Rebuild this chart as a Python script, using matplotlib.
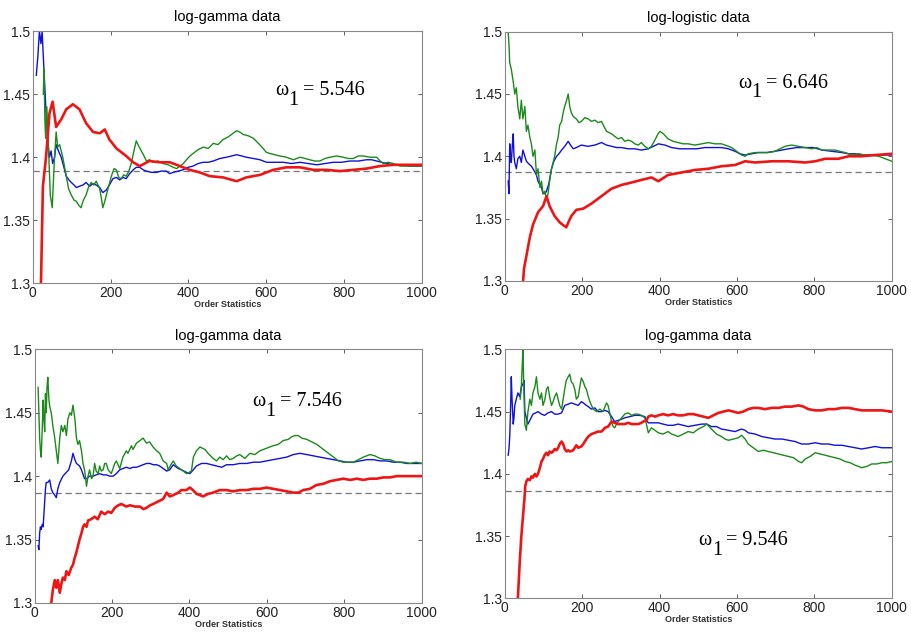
import matplotlib
matplotlib.use("Agg")
import matplotlib.pyplot as plt

plt.rcParams['font.family'] = ['Liberation Sans', 'DejaVu Sans']

# --- Data (x = order statistic, y = estimate) ---

# panel 1: log-gamma, omega_1 = 5.546
p1_red_x = [18, 21, 26, 34, 43, 51, 60, 73, 86, 103, 120, 137, 155, 172, 185, 197, 215, 240, 258, 275,
            300, 326, 352, 378, 403, 429, 455, 489, 524, 549, 584, 618, 652, 687, 721, 755, 790, 824,
            858, 893, 927, 1000]
p1_red_y = [1.28, 1.30, 1.377, 1.40, 1.435, 1.444, 1.424, 1.43, 1.438, 1.442, 1.438, 1.427, 1.42, 1.419,
            1.422, 1.414, 1.407, 1.401, 1.396, 1.393, 1.397, 1.396, 1.396, 1.393, 1.390, 1.388, 1.385,
            1.384, 1.381, 1.384, 1.386, 1.390, 1.392, 1.392, 1.390, 1.390, 1.389, 1.390, 1.391, 1.393,
            1.394, 1.394]
p1_green_x = [27, 29, 31, 33, 36, 40, 45, 50, 55, 60, 64, 69, 77, 86, 92, 99, 106, 112, 118, 124, 130,
              137, 143, 150, 157, 163, 172, 176, 180, 185, 189, 196, 202, 209, 215, 221, 227, 234, 240,
              247, 253, 260, 266, 272, 279, 286, 292, 300, 309, 322, 335, 348, 361, 370, 378, 387, 395,
              404, 412, 425, 438, 451, 464, 476, 489, 502, 515, 524, 532, 541, 554, 567, 580, 592, 600,
              609, 622, 635, 652, 670, 687, 700, 712, 725, 738, 751, 764, 781, 798, 811, 824, 837, 850,
              867, 884, 893, 901, 914, 927, 944, 970, 1000]
p1_green_y = [1.45, 1.47, 1.43, 1.415, 1.44, 1.41, 1.37, 1.36, 1.395, 1.42, 1.408, 1.41, 1.40, 1.385,
              1.375, 1.37, 1.366, 1.365, 1.362, 1.36, 1.366, 1.37, 1.376, 1.38, 1.378, 1.381, 1.375,
              1.368, 1.36, 1.365, 1.37, 1.378, 1.385, 1.391, 1.39, 1.384, 1.383, 1.386, 1.385, 1.389,
              1.395, 1.405, 1.413, 1.409, 1.405, 1.401, 1.397, 1.398, 1.396, 1.397, 1.395, 1.394,
              1.392, 1.391, 1.393, 1.395, 1.398, 1.401, 1.403, 1.406, 1.408, 1.407, 1.411, 1.410, 1.414,
              1.416, 1.419, 1.421, 1.420, 1.418, 1.417, 1.415, 1.411, 1.407, 1.404, 1.403, 1.402,
              1.401, 1.400, 1.398, 1.400, 1.399, 1.398, 1.397, 1.397, 1.399, 1.400, 1.401, 1.400,
              1.399, 1.399, 1.401, 1.401, 1.400, 1.400, 1.397, 1.395, 1.396, 1.395, 1.393, 1.393, 1.393]
p1_blue_x = [9, 13, 17, 21, 24, 27, 31, 35, 39, 43, 47, 51, 56, 60, 66, 73, 80, 86, 93, 99, 106, 112,
             120, 129, 137, 146, 155, 163, 172, 180, 189, 197, 206, 215, 223, 232, 240, 249, 258, 266,
             275, 284, 292, 305, 318, 330, 343, 352, 361, 374, 386, 399, 412, 425, 438, 451, 464, 481,
             498, 511, 524, 537, 549, 567, 584, 601, 622, 644, 665, 687, 708, 730, 751, 773, 794, 815,
             837, 858, 871, 884, 897, 910, 927, 944, 970, 1000]
p1_blue_y = [1.465, 1.48, 1.50, 1.49, 1.50, 1.48, 1.455, 1.43, 1.41, 1.40, 1.405, 1.395, 1.40, 1.41,
             1.405, 1.40, 1.392, 1.385, 1.382, 1.38, 1.378, 1.376, 1.377, 1.378, 1.380, 1.377, 1.379,
             1.378, 1.376, 1.372, 1.374, 1.378, 1.383, 1.384, 1.382, 1.384, 1.383, 1.387, 1.390,
             1.392, 1.392, 1.390, 1.389, 1.388, 1.388, 1.389, 1.389, 1.387, 1.388, 1.389, 1.390,
             1.392, 1.393, 1.395, 1.396, 1.396, 1.397, 1.399, 1.400, 1.401, 1.402, 1.401, 1.400,
             1.399, 1.398, 1.396, 1.396, 1.396, 1.395, 1.396, 1.395, 1.394, 1.395, 1.396, 1.396,
             1.397, 1.397, 1.398, 1.398, 1.397, 1.396, 1.395, 1.394, 1.394, 1.393, 1.393]

# panel 2: log-logistic, omega_1 = 6.646
p2_red_x = [45, 50, 56, 65, 73, 86, 99, 108, 116, 129, 142, 150, 159, 166, 172, 185, 203, 224, 250, 276,
            302, 328, 353, 379, 397, 422, 457, 491, 526, 560, 595, 621, 647, 690, 733, 776, 802, 828,
            862, 888, 922, 957, 1000]
p2_red_y = [1.29, 1.31, 1.32, 1.335, 1.345, 1.355, 1.36, 1.368, 1.36, 1.352, 1.347, 1.345, 1.343, 1.348,
            1.352, 1.357, 1.358, 1.362, 1.368, 1.374, 1.377, 1.379, 1.381, 1.383, 1.380, 1.385, 1.387,
            1.389, 1.390, 1.392, 1.393, 1.396, 1.395, 1.396, 1.396, 1.395, 1.396, 1.398, 1.398,
            1.400, 1.400, 1.401, 1.402]
p2_green_x = [9, 11, 13, 17, 22, 26, 30, 34, 39, 43, 47, 52, 56, 60, 65, 69, 73, 78, 82, 86, 91, 95, 99,
              104, 108, 112, 116, 121, 125, 129, 134, 138, 142, 147, 151, 155, 160, 164, 168, 172, 177,
              185, 192, 198, 207, 216, 224, 233, 241, 250, 258, 263, 270, 276, 284, 293, 302, 310, 319,
              328, 336, 345, 353, 362, 371, 379, 388, 396, 401, 410, 422, 435, 448, 461, 474, 491, 509,
              526, 543, 560, 578, 586, 595, 603, 612, 621, 629, 647, 664, 681, 698, 711, 724, 741, 759,
              776, 793, 806, 819, 836, 853, 866, 879, 897, 914, 931, 948, 966, 983, 1000]
p2_green_y = [1.5, 1.49, 1.475, 1.47, 1.46, 1.45, 1.455, 1.44, 1.43, 1.445, 1.43, 1.44, 1.42, 1.425, 1.415,
              1.41, 1.40, 1.405, 1.385, 1.39, 1.375, 1.38, 1.37, 1.372, 1.365, 1.37, 1.38, 1.39, 1.395,
              1.40, 1.41, 1.415, 1.425, 1.428, 1.435, 1.44, 1.445, 1.45, 1.44, 1.435, 1.432, 1.43,
              1.427, 1.428, 1.431, 1.430, 1.428, 1.429, 1.427, 1.428, 1.423, 1.420, 1.419, 1.418,
              1.416, 1.414, 1.415, 1.412, 1.413, 1.412, 1.410, 1.409, 1.411, 1.408, 1.406, 1.408,
              1.413, 1.418, 1.420, 1.418, 1.414, 1.412, 1.411, 1.410, 1.410, 1.409, 1.410, 1.411,
              1.410, 1.410, 1.408, 1.407, 1.405, 1.403, 1.401, 1.400, 1.402, 1.403, 1.403, 1.403,
              1.404, 1.406, 1.408, 1.409, 1.408, 1.407, 1.406, 1.407, 1.405, 1.405, 1.405, 1.404,
              1.403, 1.401, 1.402, 1.401, 1.401, 1.400, 1.398, 1.396]
p2_blue_x = [9, 11, 13, 15, 17, 20, 22, 24, 26, 30, 34, 39, 43, 47, 52, 56, 62, 69, 75, 82, 86, 91, 95,
             99, 104, 108, 114, 121, 127, 134, 140, 147, 155, 164, 170, 177, 185, 198, 215, 233, 250,
             263, 276, 289, 302, 319, 336, 353, 371, 384, 397, 414, 431, 452, 474, 496, 517, 538, 560,
             578, 595, 608, 621, 638, 655, 677, 698, 716, 733, 754, 776, 797, 819, 845, 871, 888, 905,
             927, 948, 974, 1000]
p2_blue_y = [1.38, 1.37, 1.41, 1.40, 1.395, 1.41, 1.418, 1.40, 1.395, 1.39, 1.398, 1.40, 1.395, 1.405,
             1.40, 1.396, 1.394, 1.392, 1.389, 1.385, 1.38, 1.377, 1.375, 1.37, 1.37, 1.372, 1.378,
             1.39, 1.396, 1.40, 1.402, 1.405, 1.408, 1.412, 1.409, 1.406, 1.407, 1.409, 1.408, 1.409,
             1.411, 1.409, 1.408, 1.407, 1.407, 1.406, 1.406, 1.405, 1.406, 1.408, 1.410, 1.409,
             1.407, 1.406, 1.406, 1.406, 1.407, 1.407, 1.407, 1.406, 1.404, 1.402, 1.401, 1.402,
             1.403, 1.403, 1.404, 1.405, 1.406, 1.407, 1.407, 1.407, 1.405, 1.404, 1.403, 1.402,
             1.402, 1.401, 1.401, 1.401, 1.401]

# panel 3: log-gamma, omega_1 = 7.546
p3_red_x = [39, 43, 47, 52, 56, 60, 65, 69, 73, 78, 82, 88, 95, 99, 103, 108, 112, 116, 121, 125, 129,
            134, 138, 146, 155, 163, 172, 181, 190, 198, 207, 216, 224, 237, 246, 259, 272, 281, 289,
            298, 306, 319, 332, 341, 349, 358, 371, 379, 392, 401, 409, 418, 427, 435, 448, 461, 478,
            496, 513, 530, 548, 565, 582, 599, 616, 634, 651, 668, 681, 694, 711, 728, 746, 763, 780,
            797, 815, 832, 849, 866, 884, 901, 918, 935, 953, 970, 985, 1000]
p3_red_y = [1.29, 1.30, 1.31, 1.318, 1.312, 1.318, 1.308, 1.315, 1.32, 1.318, 1.325, 1.322, 1.328, 1.33,
            1.335, 1.34, 1.345, 1.35, 1.355, 1.36, 1.362, 1.36, 1.365, 1.366, 1.368, 1.366, 1.372,
            1.370, 1.372, 1.371, 1.375, 1.377, 1.378, 1.376, 1.377, 1.376, 1.376, 1.374, 1.375, 1.377,
            1.378, 1.380, 1.382, 1.387, 1.384, 1.385, 1.387, 1.389, 1.389, 1.391, 1.389, 1.386,
            1.385, 1.384, 1.386, 1.387, 1.389, 1.389, 1.388, 1.389, 1.389, 1.390, 1.390, 1.391,
            1.390, 1.389, 1.388, 1.387, 1.387, 1.389, 1.390, 1.393, 1.394, 1.396, 1.397, 1.398,
            1.397, 1.398, 1.397, 1.398, 1.398, 1.399, 1.399, 1.400, 1.400, 1.400, 1.400, 1.400]
p3_green_x = [9, 11, 13, 15, 17, 20, 22, 24, 26, 28, 30, 32, 34, 37, 39, 43, 47, 52, 56, 60, 65, 69, 73,
              78, 82, 86, 91, 95, 99, 104, 108, 112, 116, 121, 125, 129, 134, 138, 142, 147, 151, 155,
              159, 164, 168, 172, 177, 181, 185, 190, 198, 207, 211, 220, 228, 237, 241, 250, 254, 263,
              272, 280, 289, 297, 306, 315, 323, 332, 341, 345, 352, 358, 366, 375, 384, 392, 399, 405,
              410, 418, 427, 440, 448, 461, 470, 478, 487, 496, 504, 513, 522, 530, 543, 556, 569, 582,
              599, 616, 629, 642, 655, 664, 672, 681, 690, 703, 716, 729, 746, 759, 772, 785, 797, 810,
              823, 836, 849, 866, 879, 892, 905, 918, 935, 953, 970, 985, 1000]
p3_green_y = [1.47, 1.45, 1.43, 1.42, 1.415, 1.44, 1.46, 1.445, 1.435, 1.465, 1.45, 1.47, 1.478, 1.46,
              1.455, 1.45, 1.44, 1.43, 1.42, 1.41, 1.43, 1.44, 1.435, 1.44, 1.432, 1.445, 1.45, 1.448,
              1.456, 1.445, 1.43, 1.425, 1.428, 1.42, 1.41, 1.405, 1.392, 1.40, 1.405, 1.398, 1.40,
              1.41, 1.404, 1.402, 1.408, 1.404, 1.405, 1.41, 1.41, 1.405, 1.402, 1.41, 1.412, 1.406,
              1.415, 1.42, 1.418, 1.424, 1.421, 1.426, 1.428, 1.43, 1.426, 1.427, 1.423, 1.42, 1.418,
              1.412, 1.41, 1.405, 1.409, 1.412, 1.408, 1.406, 1.404, 1.402, 1.403, 1.404, 1.415, 1.42,
              1.423, 1.421, 1.418, 1.414, 1.412, 1.415, 1.413, 1.416, 1.413, 1.414, 1.416, 1.417, 1.414,
              1.418, 1.417, 1.42, 1.422, 1.424, 1.425, 1.428, 1.429, 1.431, 1.432, 1.432, 1.43, 1.429,
              1.427, 1.425, 1.421, 1.418, 1.415, 1.412, 1.411, 1.411, 1.411, 1.413, 1.415, 1.417,
              1.416, 1.414, 1.413, 1.413, 1.411, 1.411, 1.410, 1.411, 1.410]
p3_blue_x = [9, 11, 13, 15, 17, 20, 22, 24, 26, 28, 30, 34, 39, 43, 47, 52, 56, 60, 65, 73, 82, 88, 95,
             99, 104, 108, 116, 121, 129, 134, 142, 151, 159, 168, 177, 185, 194, 203, 211, 220, 228,
             237, 246, 254, 263, 272, 280, 289, 298, 306, 315, 323, 332, 341, 349, 358, 371, 379, 392,
             401, 410, 418, 431, 444, 457, 470, 483, 496, 513, 530, 548, 565, 582, 599, 616, 634, 651,
             668, 685, 703, 720, 737, 754, 772, 789, 806, 823, 841, 858, 875, 892, 909, 927, 944, 961,
             978, 1000]
p3_blue_y = [1.345, 1.342, 1.355, 1.36, 1.358, 1.362, 1.36, 1.37, 1.38, 1.39, 1.395, 1.395, 1.397, 1.39,
             1.387, 1.385, 1.383, 1.39, 1.395, 1.40, 1.403, 1.405, 1.412, 1.418, 1.413, 1.41, 1.408,
             1.405, 1.398, 1.398, 1.40, 1.400, 1.401, 1.402, 1.401, 1.401, 1.400, 1.400, 1.402, 1.405,
             1.406, 1.407, 1.406, 1.407, 1.407, 1.408, 1.409, 1.410, 1.410, 1.409, 1.409, 1.408,
             1.406, 1.404, 1.405, 1.409, 1.406, 1.405, 1.403, 1.402, 1.405, 1.408, 1.410, 1.410,
             1.409, 1.408, 1.407, 1.409, 1.409, 1.410, 1.410, 1.411, 1.411, 1.412, 1.413, 1.414,
             1.415, 1.417, 1.418, 1.417, 1.416, 1.415, 1.414, 1.413, 1.412, 1.411, 1.411, 1.412,
             1.413, 1.413, 1.412, 1.412, 1.411, 1.411, 1.410, 1.410, 1.410]

# panel 4: log-gamma, omega_1 = 9.546
p4_red_x = [30, 34, 39, 43, 47, 51, 53, 56, 60, 65, 69, 73, 78, 82, 86, 91, 95, 99, 103, 108, 112, 116,
            121, 125, 129, 134, 138, 142, 147, 151, 155, 160, 164, 168, 177, 185, 190, 198, 203, 211,
            216, 224, 233, 241, 250, 259, 267, 276, 284, 293, 302, 310, 319, 328, 336, 345, 353, 358,
            366, 371, 379, 388, 397, 409, 422, 435, 448, 461, 474, 487, 500, 513, 526, 539, 552, 565,
            578, 591, 603, 616, 629, 642, 655, 672, 690, 707, 724, 741, 759, 772, 784, 802, 819, 836,
            853, 871, 888, 905, 922, 940, 957, 974, 1000]
p4_red_y = [1.29, 1.30, 1.33, 1.35, 1.365, 1.38, 1.39, 1.394, 1.396, 1.395, 1.398, 1.397, 1.40, 1.398,
            1.40, 1.405, 1.41, 1.412, 1.415, 1.417, 1.415, 1.418, 1.417, 1.418, 1.42, 1.419, 1.421,
            1.424, 1.426, 1.424, 1.42, 1.418, 1.419, 1.418, 1.419, 1.423, 1.421, 1.422, 1.424, 1.428,
            1.430, 1.432, 1.433, 1.434, 1.434, 1.437, 1.438, 1.442, 1.441, 1.440, 1.440, 1.440,
            1.441, 1.440, 1.440, 1.440, 1.441, 1.442, 1.443, 1.446, 1.447, 1.446, 1.447, 1.448,
            1.447, 1.448, 1.447, 1.447, 1.448, 1.448, 1.447, 1.446, 1.445, 1.447, 1.449, 1.450,
            1.451, 1.450, 1.449, 1.450, 1.452, 1.453, 1.453, 1.452, 1.453, 1.453, 1.454, 1.454,
            1.455, 1.454, 1.452, 1.451, 1.451, 1.452, 1.452, 1.453, 1.453, 1.452, 1.451, 1.451,
            1.451, 1.451, 1.450]
p4_green_x = [40, 43, 45, 47, 49, 52, 56, 60, 65, 69, 73, 78, 82, 86, 91, 95, 99, 104, 108, 112, 116, 121,
              125, 129, 134, 138, 142, 147, 151, 155, 159, 164, 168, 172, 177, 181, 185, 190, 194, 198,
              203, 207, 211, 216, 220, 224, 229, 237, 246, 254, 263, 267, 272, 276, 280, 284, 289, 293,
              302, 310, 319, 328, 336, 345, 353, 362, 366, 371, 379, 388, 397, 409, 422, 431, 440, 448,
              461, 474, 487, 500, 513, 522, 534, 547, 560, 569, 578, 591, 603, 612, 621, 629, 642, 655,
              668, 681, 694, 707, 720, 733, 746, 759, 767, 776, 789, 802, 815, 828, 840, 853, 866, 879,
              892, 905, 914, 922, 935, 948, 961, 974, 987, 1000]
p4_green_y = [1.46, 1.47, 1.485, 1.50, 1.475, 1.44, 1.435, 1.45, 1.46, 1.455, 1.465, 1.47, 1.478, 1.465,
              1.46, 1.465, 1.455, 1.46, 1.468, 1.47, 1.462, 1.455, 1.458, 1.462, 1.465, 1.46, 1.455,
              1.452, 1.46, 1.468, 1.475, 1.478, 1.48, 1.474, 1.472, 1.468, 1.46, 1.462, 1.47, 1.477,
              1.474, 1.47, 1.468, 1.462, 1.458, 1.455, 1.452, 1.45, 1.452, 1.45, 1.457, 1.455, 1.448,
              1.442, 1.438, 1.437, 1.44, 1.442, 1.445, 1.448, 1.449, 1.447, 1.448, 1.448, 1.447,
              1.445, 1.44, 1.433, 1.437, 1.435, 1.433, 1.432, 1.434, 1.432, 1.431, 1.43, 1.432, 1.434,
              1.433, 1.436, 1.438, 1.44, 1.436, 1.432, 1.43, 1.428, 1.427, 1.428, 1.429, 1.431,
              1.428, 1.424, 1.421, 1.418, 1.419, 1.418, 1.417, 1.416, 1.415, 1.414, 1.413, 1.410,
              1.409, 1.412, 1.414, 1.417, 1.416, 1.415, 1.414, 1.413, 1.412, 1.410, 1.409, 1.407,
              1.406, 1.405, 1.406, 1.408, 1.408, 1.409, 1.409, 1.410]
p4_blue_x = [9, 11, 13, 15, 17, 19, 22, 24, 26, 30, 34, 39, 43, 47, 50, 52, 56, 60, 65, 73, 80, 86, 95,
             103, 112, 121, 129, 138, 147, 155, 164, 172, 181, 190, 198, 203, 211, 216, 224, 233, 241,
             250, 259, 267, 276, 284, 293, 302, 310, 323, 336, 349, 362, 366, 371, 384, 397, 409, 422,
             435, 448, 461, 474, 491, 509, 522, 534, 547, 560, 578, 595, 603, 612, 621, 629, 647, 664,
             681, 698, 716, 733, 750, 767, 784, 802, 819, 836, 853, 871, 888, 905, 922, 940, 957, 974,
             1000]
p4_blue_y = [1.415, 1.42, 1.43, 1.45, 1.478, 1.46, 1.44, 1.445, 1.455, 1.46, 1.465, 1.462, 1.47, 1.472,
             1.475, 1.45, 1.445, 1.44, 1.443, 1.448, 1.449, 1.45, 1.448, 1.447, 1.449, 1.45, 1.448,
             1.448, 1.449, 1.455, 1.456, 1.457, 1.456, 1.455, 1.458, 1.457, 1.455, 1.454, 1.452,
             1.453, 1.450, 1.450, 1.451, 1.450, 1.446, 1.442, 1.443, 1.444, 1.445, 1.446, 1.447,
             1.447, 1.446, 1.443, 1.441, 1.441, 1.441, 1.440, 1.439, 1.439, 1.440, 1.439, 1.438,
             1.439, 1.440, 1.440, 1.438, 1.438, 1.436, 1.435, 1.434, 1.435, 1.436, 1.435, 1.433,
             1.432, 1.430, 1.429, 1.428, 1.428, 1.427, 1.426, 1.424, 1.424, 1.425, 1.424, 1.424,
             1.423, 1.423, 1.422, 1.421, 1.420, 1.421, 1.422, 1.421, 1.421]

titles = ["log-gamma data", "log-logistic data", "log-gamma data", "log-gamma data"]
omega_labels = ["5.546", "6.646", "7.546", "9.546"]
true_values = [1.389, 1.387, 1.387, 1.386]
xticks = [0, 200, 400, 600, 800, 1000]
yticks = [1.3, 1.35, 1.4, 1.45, 1.5]
ytick_labels = ["1.3", "1.35", "1.4", "1.45", "1.5"]

panels = [
    (p1_blue_x, p1_blue_y, p1_green_x, p1_green_y, p1_red_x, p1_red_y),
    (p2_blue_x, p2_blue_y, p2_green_x, p2_green_y, p2_red_x, p2_red_y),
    (p3_blue_x, p3_blue_y, p3_green_x, p3_green_y, p3_red_x, p3_red_y),
    (p4_blue_x, p4_blue_y, p4_green_x, p4_green_y, p4_red_x, p4_red_y),
]

# axes boxes in figure fractions, plus where the omega label sits (data coords, baseline)
boxes = [[0.036, 0.553, 0.427, 0.398],
         [0.554, 0.557, 0.425, 0.393],
         [0.038, 0.049, 0.425, 0.400],
         [0.554, 0.056, 0.425, 0.393]]
omega_pos = [(622, 1.449), (602, 1.455), (561, 1.455), (499, 1.343)]

fig = plt.figure(figsize=(9.11, 6.34), dpi=100)

for i, (bx, by, gx, gy, rx, ry) in enumerate(panels):
    ax = fig.add_axes(boxes[i])
    ax.plot([0, 1000], [true_values[i]] * 2, color="#777777", lw=0.9, ls=(0, (5, 3)))
    ax.plot(bx, by, color="#1010e0", lw=1.0)
    ax.plot(gx, gy, color="#1b8a1b", lw=1.0)
    ax.plot(rx, ry, color="#ee1515", lw=1.9)

    ax.set_xlim(0, 1000)
    ax.set_ylim(1.3, 1.5)
    ax.set_xticks(xticks)
    ax.set_yticks(yticks)
    ax.set_yticklabels(ytick_labels)
    ax.tick_params(direction="in", length=3, width=0.6, top=True, right=True,
                   labelsize=10, colors="#444444", labelcolor="#222222", pad=2)
    for s in ax.spines.values():
        s.set_color("#888888")
        s.set_linewidth(0.8)

    ax.set_title(titles[i], fontsize=10.5, pad=7)
    ax.set_xlabel("Order Statistics", fontsize=6.5, fontweight="bold", labelpad=0, color="#333333")

    # omega with a big, low subscript like the original figure
    ox, oy = omega_pos[i]
    serif = dict(family="Liberation Serif", fontsize=14.5, va="baseline", ha="left")
    ax.annotate("\u03c9", (ox, oy), **serif)
    ax.annotate("1", (ox, oy), xytext=(10, -7), textcoords="offset points", **serif)
    ax.annotate("= " + omega_labels[i], (ox, oy), xytext=(20, 0), textcoords="offset points", **serif)

fig.savefig("out.png", dpi=100)
